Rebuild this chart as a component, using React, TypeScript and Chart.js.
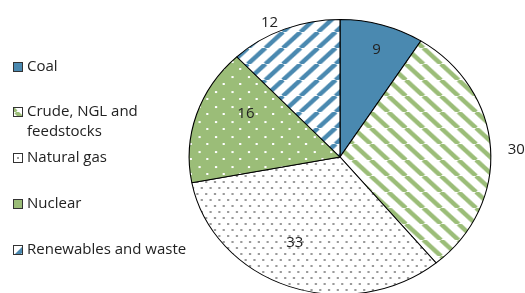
import { useEffect, useRef } from "react";
import { Chart, registerables } from "chart.js";

Chart.register(...registerables);

// ---- data ----
const categories = ["Coal", "Crude, NGL and feedstocks", "Natural gas", "Nuclear", "Renewables and waste"];
const legendLines = [["Coal"], ["Crude, NGL and", "feedstocks"], ["Natural gas"], ["Nuclear"], ["Renewables and waste"]];
const shares = [9, 30, 33, 16, 12];
const valueLabels = ["9", "30", "33", "16", "12"];

// ---- style ----
const BLUE = "#4a89b0";
const GREEN = "#9bbd78";
const GRAY = "#9a9a9a";
const FONT = "15px 'Open Sans'";
const TEXT = "#222222";
const STRETCH_X = 1.097;
// label placement: angle offset (deg) from slice middle, radius factor
const labelLayout = [
  { da: 1, r: 0.82 },
  { da: 1, r: 1.17 },
  { da: 6, r: 0.69 },
  { da: 9, r: 0.7 },
  { da: -4, r: 1.08 },
];
const legendY = [67, 112, 158, 204, 250];

function makeTile(w: number, h: number, draw: (g: CanvasRenderingContext2D) => void) {
  const c = document.createElement("canvas");
  c.width = w;
  c.height = h;
  const g = c.getContext("2d")!;
  draw(g);
  return c;
}

function stripeTile(color: string, dir: "/" | "\\") {
  return makeTile(16, 16, (g) => {
    g.fillStyle = "#ffffff";
    g.fillRect(0, 0, 16, 16);
    g.strokeStyle = color;
    g.lineWidth = 4.3;
    for (let k = -1; k <= 1; k++) {
      g.beginPath();
      if (dir === "/") {
        g.moveTo(k * 16, 16);
        g.lineTo(k * 16 + 16, 0);
      } else {
        g.moveTo(k * 16, 0);
        g.lineTo(k * 16 + 16, 16);
      }
      g.stroke();
    }
  });
}

function dotTile(bg: string, dot: string, w: number, h: number, pts: number[][]) {
  return makeTile(w, h, (g) => {
    g.fillStyle = bg;
    g.fillRect(0, 0, w, h);
    g.fillStyle = dot;
    for (const [x, y] of pts) g.fillRect(x, y, 2, 2);
  });
}

export default function App() {
  const ref = useRef<HTMLCanvasElement | null>(null);

  useEffect(() => {
    document.body.style.margin = "0";
    document.body.style.overflow = "hidden";
    const canvas = ref.current!;
    const ctx = canvas.getContext("2d")!;
    const patterns: (string | CanvasPattern)[] = [
      BLUE,
      ctx.createPattern(stripeTile(GREEN, "\\"), "repeat")!,
      ctx.createPattern(dotTile("#ffffff", GRAY, 8, 12, [[1, 1], [5, 7]]), "repeat")!,
      ctx.createPattern(dotTile(GREEN, "#ffffff", 15, 15, [[1, 1], [8, 8]]), "repeat")!,
      ctx.createPattern(stripeTile(BLUE, "/"), "repeat")!,
    ];

    const stretchPlugin = {
      id: "stretch",
      beforeDatasetsDraw(chart: any) {
        const arc = chart.getDatasetMeta(0).data[0];
        const c = chart.ctx;
        c.save();
        c.translate(arc.x, arc.y);
        c.scale(STRETCH_X, 1);
        c.translate(-arc.x, -arc.y);
      },
      afterDatasetsDraw(chart: any) {
        chart.ctx.restore();
      },
    };

    const labelPlugin = {
      id: "labels",
      afterDraw(chart: any) {
        const c = chart.ctx;
        const meta = chart.getDatasetMeta(0);
        c.save();
        c.font = FONT;
        c.fillStyle = TEXT;
        c.textAlign = "center";
        c.textBaseline = "middle";
        meta.data.forEach((arc: any, i: number) => {
          const p = arc.getProps(["x", "y", "startAngle", "endAngle", "outerRadius"], true);
          const mid = (p.startAngle + p.endAngle) / 2 + (labelLayout[i].da * Math.PI) / 180;
          const r = p.outerRadius * labelLayout[i].r;
          c.fillText(valueLabels[i], p.x + Math.cos(mid) * r * STRETCH_X, p.y + Math.sin(mid) * r);
        });
        // legend
        c.textAlign = "left";
        categories.forEach((_, i) => {
          const y = legendY[i];
          c.fillStyle = patterns[i];
          c.fillRect(14, y - 4, 8, 8);
          c.strokeStyle = "#333333";
          c.lineWidth = 1;
          c.strokeRect(13.5, y - 4.5, 9, 9);
          c.fillStyle = TEXT;
          legendLines[i].forEach((line, j) => c.fillText(line, 27, y + j * 20));
        });
        c.restore();
      },
    };

    const chart = new Chart(canvas, {
      type: "pie",
      data: {
        labels: categories,
        datasets: [
          {
            data: shares,
            backgroundColor: patterns as any,
            borderColor: "#000000",
            borderWidth: 1,
            clip: false as any,
          },
        ],
      },
      options: {
        responsive: false,
        animation: false,
        devicePixelRatio: 1,
        events: [],
        layout: { padding: { left: 202, right: 47, top: 19, bottom: 5 } },
        plugins: { legend: { display: false }, tooltip: { enabled: false } },
      },
      plugins: [stretchPlugin, labelPlugin],
    });
    return () => chart.destroy();
  }, []);

  return (
    <div style={{ width: 525, height: 293, overflow: "hidden", background: "#fff" }}>
      <canvas ref={ref} width={525} height={300} style={{ display: "block", width: 525, height: 300 }} />
    </div>
  );
}
